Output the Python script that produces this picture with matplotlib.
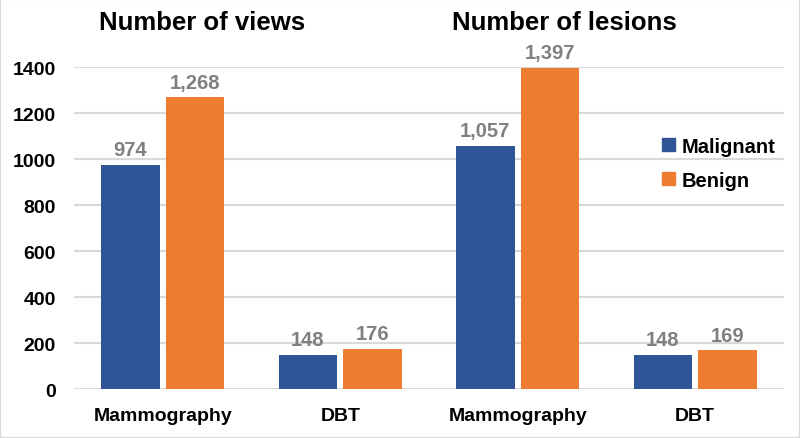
import numpy as np
import matplotlib.pyplot as plt
from matplotlib.patches import Patch

plt.rcParams['font.family'] = ['Liberation Sans', 'DejaVu Sans']

categories = ['Mammography', 'DBT', 'Mammography', 'DBT']
malignant = [974, 148, 1057, 148]
benign = [1268, 176, 1397, 169]
panel_titles = ['Number of views', 'Number of lesions']

blue = '#2F5597'
orange = '#ED7D31'
label_col = '#808080'

fig = plt.figure(figsize=(8, 4.39), dpi=100)
ax = fig.add_axes([0.0925, 0.1116, 0.8875, 0.7334])

x = np.arange(len(categories))
w = 0.33
gap = 0.035
b1 = ax.bar(x - w / 2 - gap / 2, malignant, w, color=blue, zorder=3)
b2 = ax.bar(x + w / 2 + gap / 2, benign, w, color=orange, zorder=3)

for bars, vals in ((b1, malignant), (b2, benign)):
    for r, v in zip(bars, vals):
        ax.annotate(f'{v:,}', (r.get_x() + r.get_width() / 2, v),
                    xytext=(0, 4), textcoords='offset points',
                    ha='center', va='bottom', fontsize=14.5,
                    fontweight='bold', color=label_col)

ax.set_xlim(-0.5, len(categories) - 0.5)
ax.set_ylim(0, 1400)
ax.set_yticks(np.arange(0, 1401, 200))
ax.set_xticks(x)
ax.set_xticklabels(categories)
ax.yaxis.grid(True, color='#D9D9D9', linewidth=1.5, zorder=0)
ax.set_axisbelow(True)
for s in ax.spines.values():
    s.set_visible(False)
ax.tick_params(axis='both', length=0, labelsize=14)
ax.tick_params(axis='x', pad=13)
ax.tick_params(axis='y', pad=13)
for t in ax.get_xticklabels() + ax.get_yticklabels():
    t.set_fontweight('bold')

fig.text(0.252, 0.948, panel_titles[0], ha='center', va='center',
         fontsize=18.5, fontweight='bold')
fig.text(0.705, 0.948, panel_titles[1], ha='center', va='center',
         fontsize=18.5, fontweight='bold')

handles = [Patch(color=blue, label='Malignant'), Patch(color=orange, label='Benign')]
fig.legend(handles=handles, loc='center left', bbox_to_anchor=(0.805, 0.626),
           frameon=False, handlelength=0.65, handleheight=0.65,
           handletextpad=0.3, labelspacing=0.75, prop={'weight': 'bold', 'size': 14.5})

fig.patches.append(plt.Rectangle((0, 0), 1, 1, transform=fig.transFigure,
                                 fill=False, edgecolor='#D9D9D9', linewidth=1.5))

fig.savefig('out.png', dpi=100)
